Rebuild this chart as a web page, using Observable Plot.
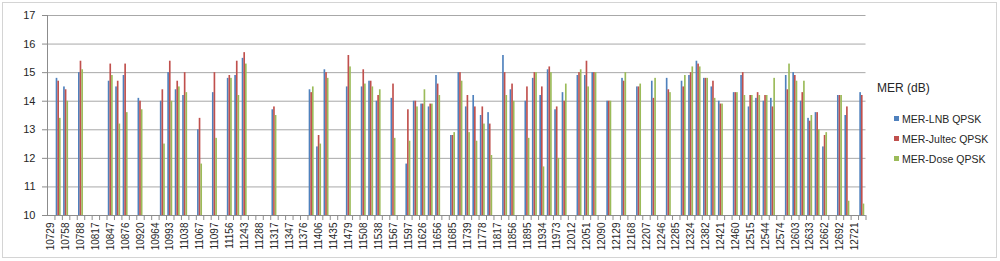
<!DOCTYPE html>
<html>
<head>
<meta charset="utf-8">
<script src="https://cdn.jsdelivr.net/npm/d3@7"></script>
<script src="https://cdn.jsdelivr.net/npm/@observablehq/plot@0.6"></script>
<style>
  body { margin: 0; background: #fff; font-family: "Liberation Sans", Arial, sans-serif; }
  #wrap { position: relative; width: 1000px; height: 261px; overflow: hidden; background: #fff; }
  #border { position: absolute; left: 2px; top: 2px; width: 995px; height: 256px; border: 1px solid #d4d4d4; box-sizing: border-box; }
  #chart { position: absolute; left: 0; top: 0; }
  #legend { position: absolute; left: 877px; top: 80px; color: #262626; }
  #legend .title { font-size: 12px; line-height: 16px; margin-bottom: 13px; white-space: nowrap; }
  #legend .item { position: relative; height: 20px; font-size: 10.5px; line-height: 20px; padding-left: 25px; white-space: nowrap; }
  #legend .sw { position: absolute; left: 17px; top: 7px; width: 5px; height: 5px; }
</style>
</head>
<body>
<div id="wrap">
  <div id="border"></div>
  <div id="chart"></div>
  <div id="legend"></div>
</div>
<script>
// ---- data ----
const labeledCategories = ["10729","10758","10788","10817","10847","10876","10920","10964","10993","11038","11067","11097","11156","11243","11288","11317","11347","11376","11406","11435","11479","11508","11538","11567","11597","11626","11656","11685","11739","11778","11817","11856","11895","11934","11973","12012","12051","12090","12129","12168","12207","12246","12285","12324","12382","12421","12460","12515","12544","12574","12603","12633","12662","12692","12721"];
const unlabeledCategories = ["10743","10773","10802","10832","10862","10891","10935","10979","11023","11053","11082","11127","11229","11273","11303","11332","11362","11391","11421","11464","11494","11523","11552","11582","11612","11641","11671","11719","11758","11797","11836","11875","11914","11954","11992","12032","12070","12110","12148","12188","12226","12266","12304","12344","12402","12441","12480","12522","12552","12581","12611","12640","12670","12699","12728"];
const categories = labeledCategories.flatMap((c, i) => [c, unlabeledCategories[i]]);

const seriesNames = ["MER-LNB QPSK", "MER-Jultec QPSK", "MER-Dose QPSK"];
const seriesColors = ["#4F81BD", "#C0504D", "#9BBB59"];

const merLNB = [null,14.8,14.5,null,15.0,null,null,null,14.7,14.5,14.9,null,14.1,null,null,14.0,15.0,14.4,14.2,null,13.0,null,14.3,null,14.8,14.9,15.5,null,null,null,13.7,null,null,null,null,14.4,12.4,15.1,null,null,14.5,null,14.5,14.7,14.0,null,14.1,null,11.8,14.0,13.9,13.8,14.9,null,12.8,15.0,13.8,14.2,13.5,13.6,null,15.6,14.4,null,14.0,14.8,14.2,15.1,13.7,14.3,null,14.9,14.9,15.0,null,14.0,null,14.8,null,14.5,null,14.7,null,14.8,null,14.7,14.9,15.4,14.8,14.5,14.0,null,14.3,14.9,13.8,14.1,14.0,14.1,null,14.9,15.0,14.0,13.4,13.6,12.4,null,14.2,13.5,null,14.3];
const merJultec = [null,14.7,14.4,null,15.4,null,null,null,15.3,14.7,15.3,null,14.0,null,null,14.4,15.4,14.7,15.0,null,13.4,null,15.0,null,14.9,15.4,15.7,null,null,null,13.8,null,null,null,null,14.3,12.8,15.0,null,null,15.6,null,15.1,14.7,14.2,null,14.6,null,13.7,14.0,13.9,13.9,14.6,null,12.8,15.0,14.2,13.8,13.8,13.2,null,15.0,14.6,null,14.5,15.0,14.5,15.2,13.8,14.0,null,15.0,15.4,15.0,null,14.0,null,14.7,null,14.5,null,14.1,null,14.4,null,14.5,15.0,15.3,14.8,14.7,13.9,null,14.3,15.0,14.2,14.3,14.2,13.8,null,14.4,14.9,14.3,13.3,13.6,12.8,null,14.2,13.8,null,14.2];
const merDose = [null,13.4,14.0,null,15.1,null,null,null,14.9,13.2,13.6,null,13.7,null,null,12.5,14.0,14.5,14.3,null,11.8,null,12.7,null,14.8,14.2,15.3,null,null,null,13.5,null,null,null,null,14.5,12.5,14.8,null,null,15.2,null,14.6,14.5,14.4,null,12.7,null,12.6,13.8,14.4,13.9,14.2,null,12.9,14.7,12.9,12.6,13.2,12.1,null,14.2,14.0,null,12.7,15.0,11.7,15.0,12.0,14.6,null,15.1,14.5,15.0,null,14.0,null,15.0,null,14.6,null,14.8,null,14.3,null,14.9,15.2,15.2,14.8,14.1,13.9,null,14.3,14.2,14.2,14.2,14.2,14.8,null,15.3,14.7,14.7,13.5,13.0,12.9,null,14.2,10.5,null,10.4];
const seriesValues = [merLNB, merJultec, merDose];

const yTicks = [10, 11, 12, 13, 14, 15, 16, 17];
const legendTitle = "MER (dB)";

// ---- chart ----
const width = 870, height = 261;
const marginLeft = 47, marginRight = 4.5, marginTop = 15, marginBottom = 46;
const step = (width - marginLeft - marginRight) / categories.length;
const barW = step / 4.5; // Excel gap width 150%

const marks = [
  Plot.gridY(yTicks, {stroke: "#a8a8a8", strokeOpacity: 1}),
];
seriesValues.forEach((vals, k) => {
  const rows = categories.map((c, i) => ({cat: c, value: vals[i]})).filter(d => d.value != null);
  const left = barW * (0.75 + k);
  marks.push(Plot.barY(rows, {
    x: "cat", y1: yTicks[0], y2: "value",
    fill: seriesColors[k],
    insetLeft: left, insetRight: step - left - barW
  }));
});
marks.push(
  Plot.ruleY([yTicks[0]], {stroke: "#8c8c8c"}),
  Plot.frame({anchor: "left", stroke: "#8c8c8c"}),
  Plot.axisY({ticks: yTicks, tickSize: 5, tickPadding: 7, fontSize: 11, stroke: "#8c8c8c", tickFormat: d => String(d)}),
  Plot.axisX({ticks: categories, text: null, tickSize: 5, dx: step / 2, stroke: "#8c8c8c"}),
  Plot.axisX({ticks: labeledCategories, tickSize: 0, tickRotate: -90, tickPadding: 7, fontSize: 10})
);

const chart = Plot.plot({
  width, height, marginLeft, marginRight, marginTop, marginBottom,
  style: {fontFamily: "'Liberation Sans', Arial, sans-serif", color: "#262626", background: "transparent"},
  x: {type: "band", domain: categories, paddingInner: 0, paddingOuter: 0, label: null},
  y: {domain: [yTicks[0], yTicks[yTicks.length - 1]], label: null},
  marks
});
document.getElementById("chart").appendChild(chart);

// ---- legend ----
const legend = document.getElementById("legend");
const t = document.createElement("div");
t.className = "title"; t.textContent = legendTitle;
legend.appendChild(t);
seriesNames.forEach((name, k) => {
  const it = document.createElement("div");
  it.className = "item";
  const sw = document.createElement("span");
  sw.className = "sw"; sw.style.background = seriesColors[k];
  it.appendChild(sw);
  it.appendChild(document.createTextNode(name));
  legend.appendChild(it);
});
</script>
</body>
</html>
